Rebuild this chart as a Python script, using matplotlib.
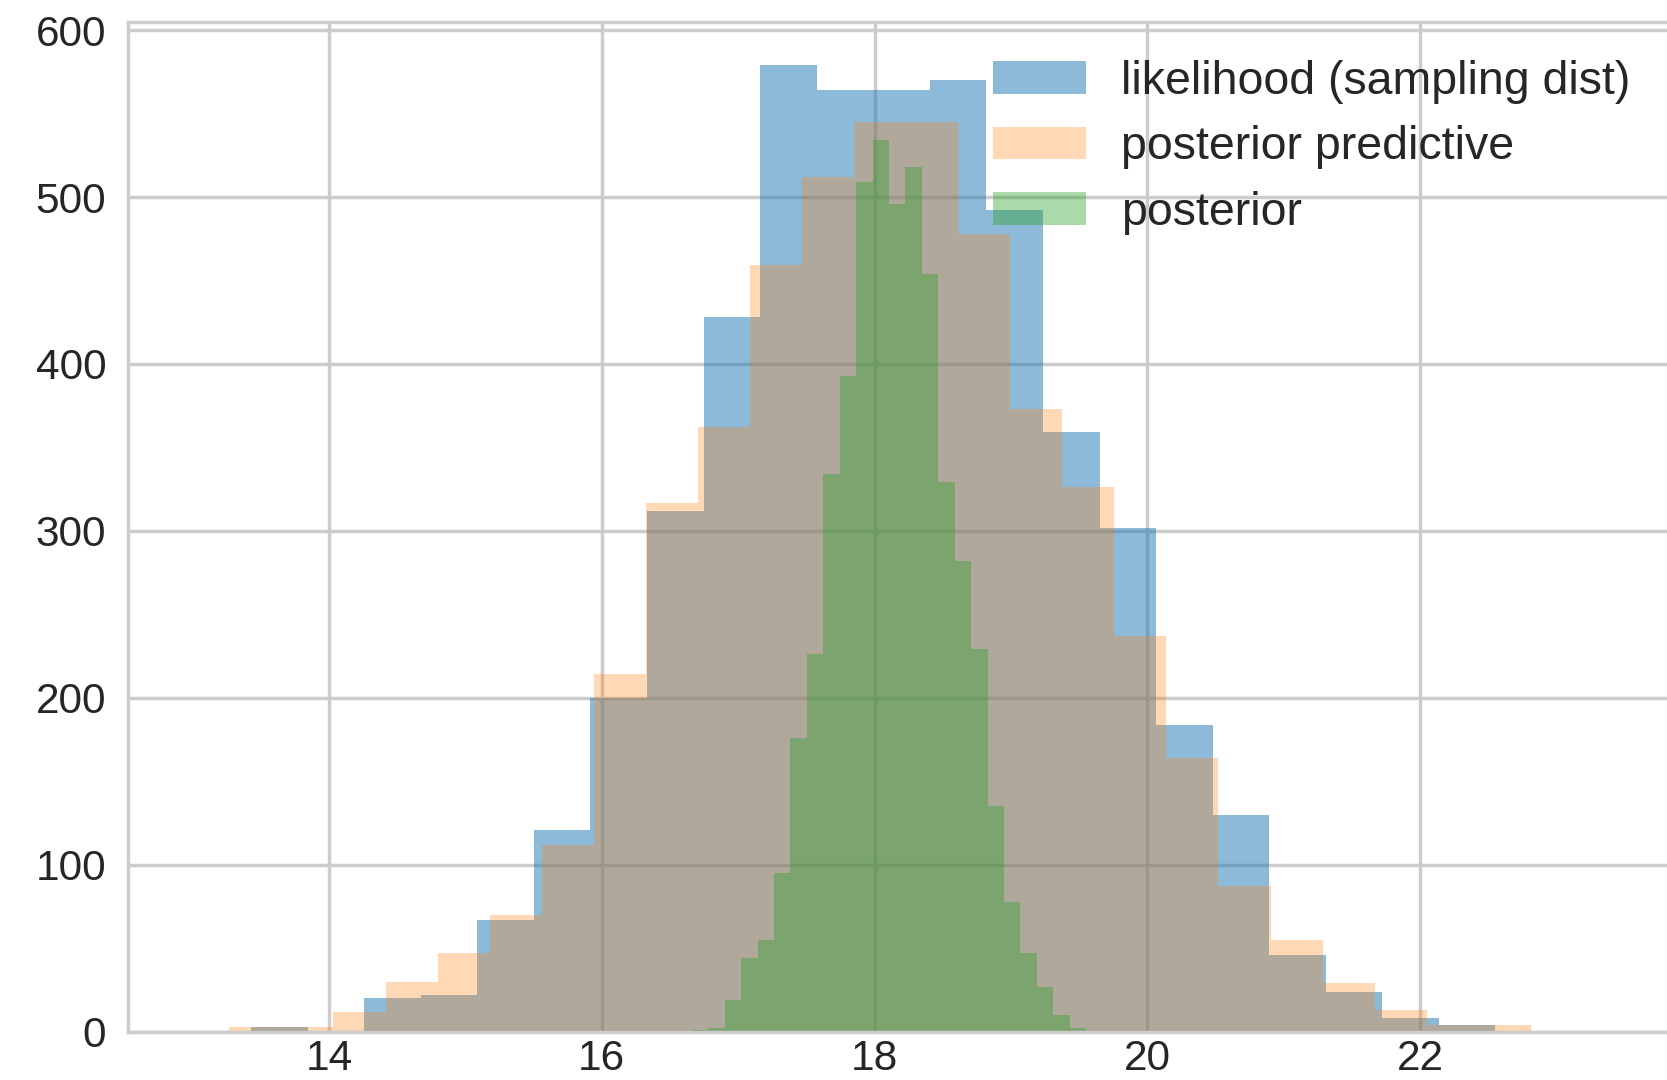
import numpy as np
import matplotlib.pyplot as plt

# counts, one value per bin
like_range = (13.43, 22.55)
like_counts = [3, 0, 20, 22, 67, 121, 200, 312, 428, 579, 564, 564, 570, 492,
               359, 302, 184, 130, 46, 24, 8, 4]

pred_range = (13.27, 22.81)
pred_counts = [3, 3, 12, 30, 47, 70, 112, 214, 317, 362, 459, 512, 545, 545,
               478, 373, 326, 237, 164, 87, 55, 29, 13, 4, 4]

post_range = (16.66, 19.55)
post_counts = [1, 2, 19, 44, 55, 95, 176, 226, 334, 393, 509, 534, 496, 518,
               454, 329, 282, 229, 135, 78, 47, 27, 10, 2]

labels = ['likelihood (sampling dist)', 'posterior predictive', 'posterior']

plt.rcParams['font.family'] = ['Liberation Sans', 'DejaVu Sans']
plt.rcParams['axes.axisbelow'] = True

fig = plt.figure(figsize=(16.67, 10.8), dpi=100)
ax = fig.add_axes([0.077, 0.0447, 0.924, 0.9352])


def draw_hist(counts, rng, color, alpha, label):
    edges = np.linspace(rng[0], rng[1], len(counts) + 1)
    ax.hist(edges[:-1], bins=edges, weights=counts, histtype='stepfilled',
            color=color, alpha=alpha, linewidth=0, label=label)


draw_hist(like_counts, like_range, '#1f77b4', 0.5, labels[0])
draw_hist(pred_counts, pred_range, '#ff7f0e', 0.3, labels[1])
draw_hist(post_counts, post_range, '#2ca02c', 0.4, labels[2])

ax.set_xlim(12.53, 23.82)
ax.set_ylim(0, 605)
ax.set_xticks([14, 16, 18, 20, 22])
ax.set_yticks([0, 100, 200, 300, 400, 500, 600])

ax.grid(True, color='#cccccc', linewidth=2.5)
for s in ax.spines.values():
    s.set_color('#cccccc')
    s.set_linewidth(2.5)
ax.tick_params(length=0, labelsize=30.5, labelcolor='#262626')
ax.tick_params(axis='x', pad=5)
ax.tick_params(axis='y', pad=16)

leg = ax.legend(loc='upper right', frameon=False, fontsize=33.5,
                labelspacing=0.46, borderaxespad=0.42, handletextpad=0.75)
for t in leg.get_texts():
    t.set_color('#262626')

fig.savefig('out.png', dpi=100)
